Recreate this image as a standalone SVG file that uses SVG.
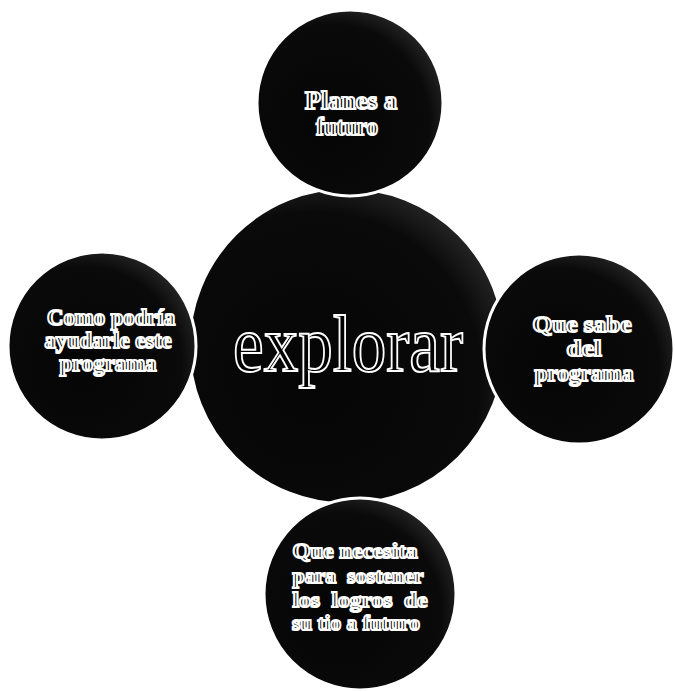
<svg xmlns="http://www.w3.org/2000/svg" width="675" height="692" viewBox="0 0 675 692">
<defs>
<radialGradient id="g" cx="0.4" cy="0.6" r="0.75">
<stop offset="0" stop-color="#050505"/>
<stop offset="0.7" stop-color="#0a0a0a"/>
<stop offset="1" stop-color="#3c3c3c"/>
</radialGradient>
</defs>
<style>
.c{fill:url(#g);stroke:#fff;stroke-width:3}
.t{font-family:"Liberation Serif","DejaVu Serif",serif;font-weight:bold;font-size:23px;fill:#000;stroke:#fff;stroke-width:2;text-anchor:middle}
.a{font-size:25px}
.b{font-size:22px}
.big{font-family:"Liberation Serif","DejaVu Serif",serif;font-size:80px;fill:#000;stroke:#fff;stroke-width:2;text-anchor:middle}
</style>
<rect width="675" height="692" fill="#fff"/>
<g id="center">
<circle class="c" cx="347" cy="346" r="158"/>
<text class="big" x="348" y="371" textLength="230" lengthAdjust="spacingAndGlyphs">explorar</text>
</g>
<g id="top">
<circle class="c" cx="350" cy="103" r="93"/>
<text class="t a" x="351" y="109" textLength="92" lengthAdjust="spacingAndGlyphs">Planes a</text>
<text class="t a" x="347" y="135" textLength="62" lengthAdjust="spacingAndGlyphs">futuro</text>
</g>
<g id="left">
<circle class="c" cx="102" cy="346" r="94"/>
<text class="t" x="111" y="325" textLength="128" lengthAdjust="spacingAndGlyphs">Como podría</text>
<text class="t" x="108" y="348" textLength="127" lengthAdjust="spacingAndGlyphs">ayudarle este</text>
<text class="t" x="108" y="371" textLength="97" lengthAdjust="spacingAndGlyphs">programa</text>
</g>
<g id="right">
<circle class="c" cx="579" cy="349" r="95"/>
<text class="t" x="582" y="332" textLength="99" lengthAdjust="spacingAndGlyphs">Que sabe</text>
<text class="t" x="584" y="356" textLength="35" lengthAdjust="spacingAndGlyphs">del</text>
<text class="t" x="584" y="381" textLength="99" lengthAdjust="spacingAndGlyphs">programa</text>
</g>
<g id="bottom">
<circle class="c" cx="360" cy="594" r="96"/>
<text class="t b" x="355" y="558" textLength="125" lengthAdjust="spacingAndGlyphs">Que necesita</text>
<text class="t b" x="358" y="583" textLength="131" lengthAdjust="spacingAndGlyphs" xml:space="preserve">para  sostener</text>
<text class="t b" x="360" y="607" textLength="135" lengthAdjust="spacingAndGlyphs" xml:space="preserve">los  logros  de</text>
<text class="t b" x="356" y="630" textLength="128" lengthAdjust="spacingAndGlyphs">su tio a futuro</text>
</g>
<g id="connectors"/>
</svg>
